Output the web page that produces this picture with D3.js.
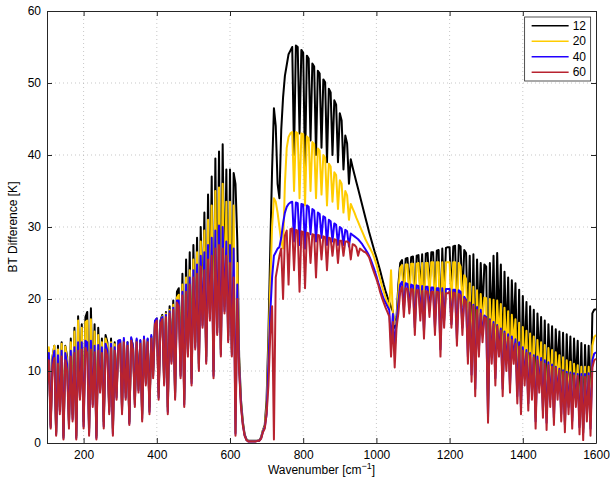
<!DOCTYPE html>
<html>
<head>
<meta charset="utf-8">
<script src="https://cdn.jsdelivr.net/npm/d3@7"></script>
<style>
  body { margin: 0; background: #fff; }
  text { font-family: "Liberation Sans", Arial, Helvetica, sans-serif; }
</style>
</head>
<body>
<div id="plot-area"></div>
<script>
// wavenumber grid, one value every 5 cm-1
const wavenumbers = d3.range(100, 1601, 5);

// BT difference [K], rows of 100 cm-1
const bt12 = [
  8, 13, 2.5, 12, 13.5, 1.5, 13.5, 5, 14, 1, 13.5, 12, 3, 14.5, 4, 16, 1, 17.6, 7, 16.5,
  3, 17.5, 18.2, 2, 18.7, 6, 16.5, 1, 16, 8, 14.5, 3, 15, 14, 5, 14.5, 2, 14, 7, 14.2,
  14.2, 5, 14.3, 7, 14, 3, 14.5, 13.5, 6, 14.3, 8, 14.2, 4, 14.6, 9, 14.4, 5, 14.8, 10, 16.8,
  17.3, 7, 17, 17.8, 9, 18.2, 5, 19, 12, 19.8, 7, 21, 21.5, 10, 23.5, 6, 25.5, 13, 26.5, 9,
  27.5, 14, 28.5, 11, 30, 17, 32, 12, 34.5, 18, 37, 10, 39.5, 16, 40.5, 13, 41.5, 19, 38, 15,
  38, 13, 37.5, 36, 28, 12, 6, 3, 1.2, 0.5, 0.3, 0.3, 0.3, 0.3, 0.3, 0.3, 0.35, 0.8, 1.8, 2.5,
  6, 15, 27, 38, 46.5, 44, 36, 34, 43.5, 48, 51, 52.5, 54, 54.5, 55, 40, 55.2, 55, 43, 54.6,
  54.2, 38, 53.8, 53.4, 42, 52.7, 52.3, 40, 51.7, 51.3, 41, 50.5, 50.1, 39, 49.2, 48.7, 40, 47.6, 47, 39,
  45.8, 44.8, 38, 42.7, 41.6, 36, 39.4, 38.3, 37.3, 36.3, 35.3, 34.3, 33.3, 32.3, 31.3, 30.3, 29.3, 28.4, 27.5, 26.6,
  25.8, 24.9, 24, 23, 22, 21.1, 20.3, 19.6, 18.9, 18.3, 16, 17.5, 22, 25, 25.4, 21, 25.6, 25.7, 21.5, 25.8,
  25.9, 19, 26, 26.1, 21, 26.2, 18, 26.3, 26.4, 21, 26.5, 26.5, 19, 26.7, 26.8, 16, 27, 20, 27.1, 27.2,
  27.2, 20, 27.3, 27.4, 18, 27.5, 27.3, 20, 26.8, 26.4, 16, 26, 12, 26.2, 10, 25.5, 16, 25, 18, 24.8,
  24.5, 6, 25, 15, 26, 12, 26.4, 16, 24.8, 10, 23.8, 14, 23, 11, 22.6, 15, 22.2, 9, 21.3, 7,
  20.4, 11, 19.6, 8, 19, 10, 18.5, 5, 18, 11, 17.5, 7, 17, 5, 16.5, 9, 16.2, 6, 15.8, 10,
  15.5, 6, 15.3, 4, 15.1, 7, 14.8, 5, 14.5, 8, 14.2, 4, 13.9, 2, 13.6, 6, 13.5, 4, 18, 18.5,
  18.6
];

const bt20 = [
  8, 13.3, 2.3, 12, 13.5, 1.3, 13, 4.6, 13.8, 0.8, 13.4, 11.5, 2.6, 14, 3.5, 15.5, 0.8, 17, 6.5, 16,
  2.5, 16.8, 17, 1.5, 17.2, 5.5, 15.5, 0.8, 15, 7.5, 14, 2.5, 14.5, 13.5, 4.5, 14, 1.5, 13.7, 6.5, 14,
  14, 4.5, 14.2, 6.5, 13.8, 2.8, 14.4, 13.3, 5.5, 14.2, 7.5, 14, 3.5, 14.5, 8.5, 14.2, 4.5, 14.7, 9.5, 16.7,
  17.2, 6.5, 16.8, 17.6, 8.5, 18, 4.5, 18.5, 11.5, 19.2, 6.5, 20.2, 20.6, 9.5, 22, 5.5, 23, 12.5, 24, 8.5,
  25.5, 13.5, 26.5, 10.5, 28, 16.5, 29.5, 11.5, 31, 17.5, 33, 9.5, 35, 15.5, 35.5, 12.5, 36, 18.5, 33.5, 14.5,
  33.5, 12.5, 33, 1.5, 25, 11, 5.5, 2.8, 1.1, 0.45, 0.25, 0.25, 0.25, 0.25, 0.25, 0.3, 0.35, 0.7, 1.8, 2.3,
  5, 13, 22, 30, 34, 33.5, 32, 30, 28, 27, 36, 41, 42.5, 43, 43.2, 35, 43.2, 43, 34, 43,
  42.9, 33, 42.6, 42.3, 35, 41.8, 41.5, 34, 40.9, 40.6, 34.5, 40, 39.6, 33, 38.8, 38.4, 33.5, 37.6, 37.2, 32.5,
  36.5, 36, 32, 35, 34.4, 31, 33.2, 32.6, 32, 31.3, 30.7, 30.1, 29.5, 28.9, 28.3, 27.8, 27.3, 26.8, 26.3, 25.6,
  24.8, 23.8, 22.8, 21.8, 21, 20.2, 19.4, 18.6, 24, 18, 16.5, 17, 21, 24.3, 24.7, 19, 24.8, 24.8, 19.5, 24.9,
  24.9, 18, 24.9, 25, 20, 25, 17, 25, 25, 20, 25.1, 25.1, 18, 25.1, 25.1, 15, 25.1, 19, 25.1, 25.1,
  25.1, 19, 25.1, 25.1, 17, 25, 24.5, 19, 23.3, 22.8, 14, 22.2, 11, 21.7, 9, 21.2, 14.5, 20.7, 16.5, 20.2,
  20.1, 4.5, 20, 13.5, 19.9, 10.5, 19.8, 14.5, 19.3, 8.5, 18.8, 12.5, 18.3, 9.5, 17.8, 13.5, 17.2, 7.5, 16.7, 6,
  16.1, 10, 15.6, 6.5, 15.2, 8.5, 14.8, 3.5, 14.3, 9.5, 14, 5.5, 13.6, 3.5, 13.2, 7.5, 12.9, 4.5, 12.6, 8.5,
  12.2, 5, 11.9, 3, 11.5, 6, 11.3, 3.5, 11, 7, 10.8, 2.5, 10.6, 1.5, 10.6, 5, 10.6, 3, 13.5, 14.7,
  15
];

const bt40 = [
  8, 12.5, 2.2, 11.5, 12.8, 1.2, 12.2, 4.4, 12.8, 0.7, 12.5, 11, 2.4, 12.8, 3.3, 13.3, 0.7, 14, 6.3, 14,
  2.3, 14.2, 14, 1.3, 14.2, 5.3, 13.5, 0.7, 13.6, 7.3, 13.3, 2.3, 13.8, 12.8, 4.3, 13.8, 1.3, 13.3, 6.3, 14.2,
  14.3, 4.3, 14.6, 6.3, 14, 2.7, 14.7, 13.4, 5.3, 14.5, 7.3, 14.3, 3.3, 14.8, 8.3, 14.5, 4.3, 15, 9.3, 17,
  17.3, 6.3, 16.9, 17.5, 8.3, 17.8, 4.3, 18.3, 11.3, 18.8, 6.3, 19.8, 19.8, 9.3, 21, 5.3, 22, 12.3, 23, 8.3,
  24, 13.3, 24.8, 10.3, 26, 16.3, 26.5, 11.3, 27.5, 17.3, 28.5, 9.3, 29.5, 15.3, 30.2, 12.3, 30, 18.3, 28, 14.3,
  27.5, 12.3, 27, 1.3, 22, 10.5, 5.3, 2.6, 1.05, 0.42, 0.22, 0.22, 0.22, 0.22, 0.22, 0.3, 0.32, 0.65, 1.6, 2.2,
  4, 11, 18, 23, 26, 26.5, 27, 27.2, 28.5, 30.5, 32, 32.8, 33.2, 33.4, 33.5, 28, 33.4, 33.3, 27.5, 33.2,
  33.1, 27, 33, 32.8, 29, 32.5, 32.3, 28, 32, 31.8, 28.5, 31.5, 31.3, 27.5, 31, 30.8, 28, 30.5, 30.3, 27.5,
  30, 29.8, 27.5, 29.6, 29.4, 27.3, 29.1, 28.9, 28.7, 28.5, 28.3, 28, 27.7, 27.3, 26.9, 26.5, 26, 25.4, 24.7, 24,
  23.2, 22.3, 21.5, 20.7, 20, 19.5, 19, 18.5, 14, 17.9, 13, 16.8, 19.5, 22, 22.4, 18.5, 22.2, 22.1, 18.8, 22,
  21.9, 16, 21.9, 21.8, 18, 21.8, 15.5, 21.7, 21.7, 18.5, 21.6, 21.6, 16, 21.5, 21.5, 13, 21.5, 17, 21.4, 21.4,
  21.4, 16.5, 21.3, 21.3, 14.5, 21.2, 21, 16, 20.3, 19.9, 12, 19.5, 9.5, 19.2, 7.5, 18.9, 13, 18.5, 15, 17.7,
  17.5, 3.5, 17.2, 12, 16.8, 9, 16.4, 13, 15.9, 7.5, 15.5, 11, 15.1, 8, 14.8, 12, 14.4, 6.5, 14, 5,
  13.3, 9, 12.9, 5.5, 12.5, 7, 12.2, 3, 12, 8, 11.8, 4.5, 11.5, 2.8, 11.2, 6, 10.9, 3.5, 10.6, 7,
  10.3, 4, 10.1, 2.5, 9.9, 5, 9.8, 3, 9.7, 6, 9.6, 2.2, 9.6, 1.4, 9.6, 4, 9.7, 2, 11.5, 12.4,
  12.6
];

const bt60 = [
  8, 11.5, 2, 10.5, 11.8, 1, 11, 4, 12, 0.5, 11.5, 10, 2, 12, 3, 12.5, 0.5, 12.8, 6, 13,
  2, 13.2, 12.5, 1, 13, 5, 12.6, 0.5, 12.8, 7, 12.5, 2, 13, 12, 4, 13.2, 1, 12.8, 6, 13.5,
  13.8, 4, 14, 6, 13.5, 2.5, 14.2, 13, 5, 14, 7, 13.8, 3, 14.3, 8, 14, 4, 14.5, 9, 16.5,
  17, 6, 16.5, 17.2, 8, 17.5, 4, 18, 11, 18.5, 6, 19.5, 19, 9, 20.5, 5, 21, 12, 22, 8,
  23, 13, 23.5, 10, 24.5, 16, 24, 11, 25.5, 17, 26, 9, 27, 15, 27.5, 12, 27, 18, 26, 14,
  25, 12, 23, 1, 20, 10, 5, 2.5, 1, 0.4, 0.2, 0.2, 0.2, 0.2, 0.2, 0.3, 0.3, 0.6, 1.5, 2,
  4, 8, 15, 19, 0.5, 23, 24.5, 26, 27, 20, 28.8, 29.5, 22, 29.7, 29.8, 24, 29.6, 29.5, 21, 29.4,
  29.3, 21.5, 29.2, 29.1, 25, 29, 28.9, 23, 28.9, 28.8, 25.5, 28.7, 28.6, 24, 28.5, 28.4, 26, 28.3, 28.2, 25,
  28.1, 28.1, 26, 28, 28, 27.8, 25.5, 27.6, 27.5, 27.2, 26, 27, 26.8, 26.6, 26.5, 26.2, 25.8, 25, 24.2, 23.5,
  22.8, 22, 21, 20.2, 19.5, 18.8, 18.2, 17.6, 12, 16.8, 10.5, 16, 18, 21, 21.7, 17.5, 21.5, 21.4, 18, 21.4,
  21.3, 15, 21.2, 21.2, 17, 21.1, 14.5, 21.1, 21, 17.5, 21, 21, 15, 21, 20.9, 12, 20.9, 16, 20.8, 20.8,
  21, 16, 20.9, 20.8, 13.5, 20.7, 20.5, 15, 20, 19.6, 11, 19.4, 8.5, 19, 6.5, 18.5, 12, 18, 14, 17.5,
  17.3, 2.8, 17, 11, 16.5, 8, 16.2, 12, 15.6, 6.5, 15.2, 10, 14.7, 7, 14.3, 11, 13.8, 5.5, 13.4, 4,
  12.8, 8, 12.5, 4.5, 12.2, 6, 11.9, 2, 11.5, 7, 11.3, 3.5, 11, 1.8, 10.8, 5, 10.6, 2.5, 10.4, 6,
  10.1, 3, 9.9, 1.5, 9.6, 4, 9.5, 2, 9.4, 5, 9.3, 1.2, 9.2, 0.4, 9.2, 3, 9.3, 1, 10.5, 11.5,
  11.7
];

const seriesNames = ["12", "20", "40", "60"];
const seriesColors = ["#000000", "#ffcc00", "#2200ff", "#b8232f"];
const xTicks = [200, 400, 600, 800, 1000, 1200, 1400, 1600];
const yTicks = [0, 10, 20, 30, 40, 50, 60];

const w = 610;
const h = 482;
const margin = { top: 11, right: 14, bottom: 39, left: 47 };
const width = w - margin.left - margin.right;
const height = h - margin.top - margin.bottom;

const svg = d3
  .select("#plot-area")
  .append("svg")
  .attr("width", w)
  .attr("height", h)
  .append("g")
  .attr("transform", `translate(${margin.left}, ${margin.top})`);

const x = d3.scaleLinear().domain([100, 1600]).range([0, width]);
const y = d3.scaleLinear().domain([0, 60]).range([height, 0]);

// dotted grid
svg
  .append("g")
  .selectAll("line")
  .data(xTicks.slice(0, -1))
  .join("line")
  .attr("x1", (d) => x(d))
  .attr("x2", (d) => x(d))
  .attr("y1", 0)
  .attr("y2", height)
  .attr("stroke", "#b0b0b0")
  .attr("stroke-width", 0.7)
  .attr("stroke-dasharray", "1,3");
svg
  .append("g")
  .selectAll("line")
  .data(yTicks.slice(1, -1))
  .join("line")
  .attr("x1", 0)
  .attr("x2", width)
  .attr("y1", (d) => y(d))
  .attr("y2", (d) => y(d))
  .attr("stroke", "#b0b0b0")
  .attr("stroke-width", 0.7)
  .attr("stroke-dasharray", "1,3");

svg
  .append("clipPath")
  .attr("id", "clip")
  .append("rect")
  .attr("width", width)
  .attr("height", height);

const allSeries = [bt12, bt20, bt40, bt60];
const line = d3
  .line()
  .x((d, i) => x(wavenumbers[i]))
  .y((d) => y(d));

svg
  .append("g")
  .attr("clip-path", "url(#clip)")
  .selectAll(".line")
  .data(allSeries)
  .join("path")
  .attr("class", "line")
  .attr("d", line)
  .attr("fill", "none")
  .attr("stroke", (d, i) => seriesColors[i])
  .attr("stroke-width", 2)
  .attr("stroke-linejoin", "round");

// axes, ticks pointing inwards on all four sides
const axisColor = "#262626";
const fmt = d3.format("d");
const xAxis = d3.axisBottom(x).tickValues(xTicks).tickSizeInner(-5).tickSizeOuter(0).tickPadding(7).tickFormat(fmt);
const xAxisTop = d3.axisTop(x).tickValues(xTicks).tickSizeInner(-5).tickSizeOuter(0).tickFormat("");
const yAxis = d3.axisLeft(y).tickValues(yTicks).tickSizeInner(-5).tickSizeOuter(0).tickPadding(6).tickFormat(fmt);
const yAxisRight = d3.axisRight(y).tickValues(yTicks).tickSizeInner(-5).tickSizeOuter(0).tickFormat("");

svg.append("g").attr("class", "x-axis").attr("transform", `translate(0, ${height})`).call(xAxis);
svg.append("g").attr("class", "x-axis").call(xAxisTop);
svg.append("g").attr("class", "y-axis").call(yAxis);
svg.append("g").attr("class", "y-axis").attr("transform", `translate(${width}, 0)`).call(yAxisRight);

svg.selectAll(".x-axis path, .y-axis path").attr("stroke", axisColor);
svg.selectAll(".x-axis line, .y-axis line").attr("stroke", axisColor);
svg
  .selectAll(".x-axis text, .y-axis text")
  .attr("fill", "#000")
  .style("font-size", "12px")
  .style("font-family", '"Liberation Sans", Arial, sans-serif');

// axis labels
const xLabel = svg
  .append("text")
  .attr("x", width / 2)
  .attr("y", height + 31)
  .attr("text-anchor", "middle")
  .style("font-size", "12px");
xLabel.append("tspan").text("Wavenumber [cm");
xLabel.append("tspan").attr("dy", -5).style("font-size", "9px").text("\u22121");
xLabel.append("tspan").attr("dy", 5).text("]");

svg
  .append("text")
  .attr("transform", `translate(${-30}, ${height / 2}) rotate(-90)`)
  .attr("text-anchor", "middle")
  .style("font-size", "12px")
  .text("BT Difference [K]");

// legend
const legend = svg.append("g").attr("transform", `translate(${x(1599) - 66 - 5}, 6)`);
legend
  .append("rect")
  .attr("width", 66)
  .attr("height", 64)
  .attr("fill", "#fff")
  .attr("stroke", axisColor)
  .attr("stroke-width", 0.8);
const entries = legend
  .selectAll(".entry")
  .data(seriesNames)
  .join("g")
  .attr("class", "entry")
  .attr("transform", (d, i) => `translate(0, ${8.7 + i * 15.5})`);
entries
  .append("line")
  .attr("x1", 7)
  .attr("x2", 44)
  .attr("stroke", (d, i) => seriesColors[i])
  .attr("stroke-width", 1.5);
entries
  .append("text")
  .attr("x", 48)
  .attr("dy", "0.35em")
  .style("font-size", "12px")
  .text((d) => d);
</script>
</body>
</html>
